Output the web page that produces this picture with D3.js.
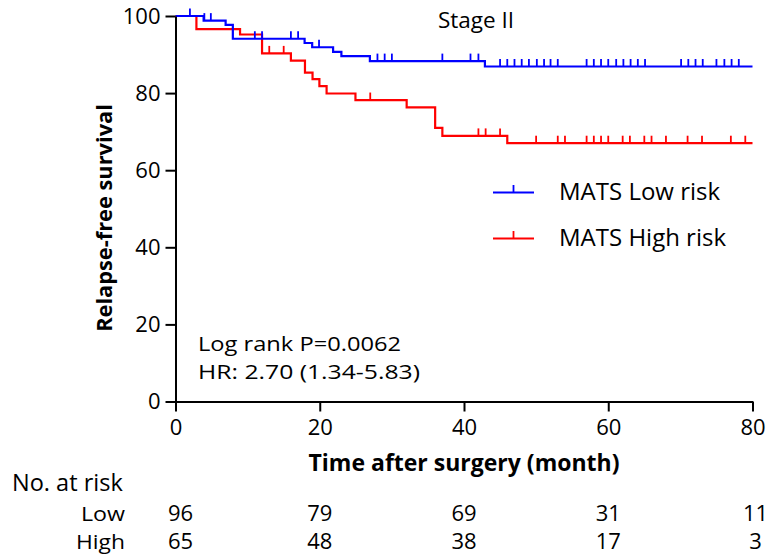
<!DOCTYPE html>
<html>
<head>
<meta charset="utf-8">
<script src="https://cdn.jsdelivr.net/npm/d3@7"></script>
<style>
  body { margin: 0; background: #fff; }
  text { font-family: "Open Sans", Lato, sans-serif; fill: #000; }
</style>
</head>
<body>
<svg id="chart" width="770" height="560"></svg>
<script>
// Kaplan–Meier estimates: [month, % relapse-free] at each event time
const lowSteps = [[0,100],[3.9,98.8],[6.95,97.7],[7.95,94.1],[17.9,93.0],[18.95,91.9],[21.85,90.7],[23.0,89.6],[26.95,88.3],[42.9,86.9]];
const highSteps = [[0,100],[2.9,96.6],[8.95,95.2],[12.0,90.3],[16.0,88.4],[17.95,85.3],[19.0,83.6],[19.95,81.8],[20.95,79.9],[24.95,78.2],[32.05,76.3],[36.0,71.0],[37.0,68.9],[46.0,67.0]];

// censored observations (months)
const lowCensored = [2,4,4.9,11,12,16,17,19.9,28,29,30,37,40.9,42,45,46,47,48,49,50.1,51.1,52,53,57,58,59,60,61.1,62.1,63.1,64.1,65.1,70.1,71.1,72.1,73.1,75,76.1,77.1,78.1];
const highCensored = [13,15,27,42,43,45,50,53,54,57,58,59,60,62,63,65,66,68,71,73,77,79];

const followUpEnd = 80;
const xTicks = [0,20,40,60,80];
const yTicks = [0,20,40,60,80,100];
const riskGroups = ["Low","High"];
const riskLow = [96,79,69,31,11];
const riskHigh = [65,48,38,17,3];

const seriesNames = ["MATS Low risk","MATS High risk"];
const seriesColors = ["#0000ff","#ff0000"];
const statLines = ["Log rank P=0.0062", "HR: 2.70 (1.34-5.83)"];

const svg = d3.select("#chart");
const x = d3.scaleLinear().domain([0, 80]).range([175.5, 752.5]);
const y = d3.scaleLinear().domain([0, 100]).range([401.5, 16]);

// survival value at time t from a step table
function survAt(steps, t) {
  let s = steps[0][1];
  for (const [tt, v] of steps) if (tt <= t) s = v;
  return s;
}

const line = d3.line().x(d => x(d[0])).y(d => y(d[1])).curve(d3.curveStepAfter);

const series = [
  {steps: lowSteps, cens: lowCensored, color: seriesColors[0]},
  {steps: highSteps, cens: highCensored, color: seriesColors[1]}
];

// draw high risk first so low risk sits on top where they overlap
[series[1], series[0]].forEach(s => {
  const pts = s.steps.concat([[followUpEnd, s.steps[s.steps.length - 1][1]]]);
  svg.append("path")
    .attr("d", line(pts))
    .attr("fill", "none")
    .attr("stroke", s.color)
    .attr("stroke-width", 2.2);
  svg.append("g").selectAll("line").data(s.cens).join("line")
    .attr("x1", d => x(d)).attr("x2", d => x(d))
    .attr("y1", d => y(survAt(s.steps, d)))
    .attr("y2", d => y(survAt(s.steps, d)) - 7.5)
    .attr("stroke", s.color)
    .attr("stroke-width", 1.8);
});

// axes
const xAxis = svg.append("g")
  .attr("transform", `translate(0,${y(0)})`)
  .call(d3.axisBottom(x).tickValues(xTicks).tickSize(10).tickSizeOuter(0).tickPadding(8));
const yAxis = svg.append("g")
  .attr("transform", `translate(${x(0)},0)`)
  .call(d3.axisLeft(y).tickValues(yTicks).tickSize(10).tickSizeOuter(0).tickPadding(5));

[xAxis, yAxis].forEach(g => {
  g.selectAll("path, line").attr("stroke", "#000").attr("stroke-width", 2);
  g.selectAll("text").style("font-family", "'Open Sans'").style("font-size", "22px").attr("fill", "#000");
});

// axis titles
svg.append("text")
  .attr("transform", "translate(103,218) rotate(-90)")
  .attr("text-anchor", "middle")
  .attr("dominant-baseline", "central")
  .style("font-size", "21.8px").style("font-weight", "bold")
  .text("Relapse-free survival");

svg.append("text")
  .attr("x", 464).attr("y", 471)
  .attr("text-anchor", "middle")
  .style("font-size", "23px").style("font-weight", "bold")
  .text("Time after surgery (month)");

// title
svg.append("text")
  .attr("x", 476).attr("y", 28)
  .attr("text-anchor", "middle")
  .style("font-size", "22.5px")
  .text("Stage II");

// statistics block: compact glyphs widened to the set's proportions
const statWidths = [203, 222];
statLines.forEach((t, i) => {
  svg.append("text")
    .attr("x", 198)
    .attr("y", 351 + i * 27.5)
    .attr("textLength", statWidths[i])
    .attr("lengthAdjust", "spacingAndGlyphs")
    .style("font-size", "20px")
    .text(t);
});

// legend
const legendY = [192.5, 238.5];
seriesNames.forEach((name, i) => {
  const g = svg.append("g");
  g.append("line").attr("x1", 493).attr("x2", 534)
    .attr("y1", legendY[i]).attr("y2", legendY[i])
    .attr("stroke", seriesColors[i]).attr("stroke-width", 2.2);
  g.append("line").attr("x1", 513.5).attr("x2", 513.5)
    .attr("y1", legendY[i]).attr("y2", legendY[i] - 7.5)
    .attr("stroke", seriesColors[i]).attr("stroke-width", 1.8);
  g.append("text").attr("x", 559).attr("y", legendY[i] + 7.5)
    .style("font-size", "24px").text(name);
});

// number at risk table
svg.append("text").attr("x", 12).attr("y", 491)
  .style("font-size", "23.5px").text("No. at risk");
const riskRows = [riskLow, riskHigh];
const rowY = [521, 549];
const groupWidths = [44, 49];
riskGroups.forEach((grp, i) => {
  svg.append("text")
    .attr("x", 125).attr("y", rowY[i])
    .attr("text-anchor", "end")
    .attr("textLength", groupWidths[i])
    .attr("lengthAdjust", "spacingAndGlyphs")
    .style("font-size", "20.5px")
    .text(grp);
});
riskRows.forEach((row, i) => {
  svg.append("g").selectAll("text").data(row).join("text")
    .attr("x", (d, j) => x(xTicks[j]) + (j === 0 ? 5 : j === xTicks.length - 1 ? 3 : 0))
    .attr("y", rowY[i])
    .attr("text-anchor", "middle")
    .style("font-size", "22px")
    .text(d => d);
});
</script>
</body>
</html>
